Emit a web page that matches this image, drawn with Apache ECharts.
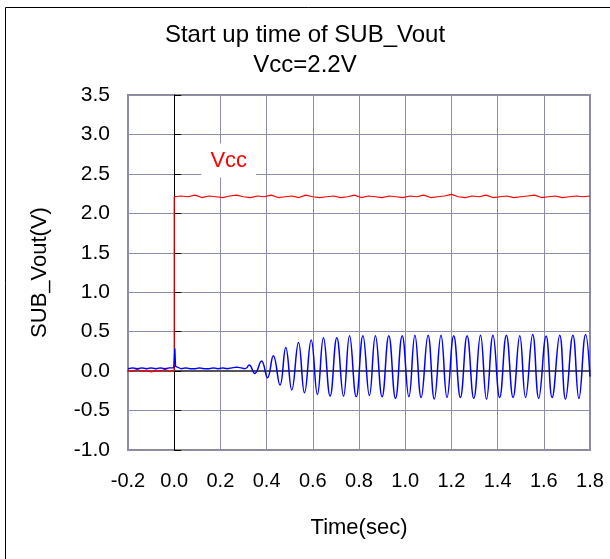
<!DOCTYPE html>
<html>
<head>
<meta charset="utf-8">
<script src="https://cdn.jsdelivr.net/npm/echarts@6/dist/echarts.min.js"></script>
<style>
  html, body { margin: 0; padding: 0; background: #fff; }
  #chart { width: 610px; height: 559px; }
</style>
</head>
<body>
<div id="chart"></div>
<script>
var chart = echarts.init(document.getElementById('chart'));

var xTicks = [-0.2, 0.0, 0.2, 0.4, 0.6, 0.8, 1.0, 1.2, 1.4, 1.6, 1.8];
var yTicks = [-1.0, -0.5, 0.0, 0.5, 1.0, 1.5, 2.0, 2.5, 3.0, 3.5];

// Vcc trace (time, volt)
var vccPoints = [
    [-0.2, 0.01], [-0.18, 0.00], [-0.16, 0.02], [-0.14, 0.00], [-0.12, 0.01],
    [-0.10, -0.01], [-0.08, 0.01], [-0.06, 0.00], [-0.04, 0.02], [-0.02, 0.00],
    [0.0, 0.01], [0.0, 2.21],
    [0.005, 2.20], [0.03, 2.22], [0.06, 2.21], [0.09, 2.23], [0.12, 2.20],
    [0.15, 2.22], [0.18, 2.21], [0.21, 2.20], [0.24, 2.22], [0.27, 2.23],
    [0.30, 2.21], [0.33, 2.20], [0.36, 2.22], [0.39, 2.21], [0.42, 2.23],
    [0.45, 2.20], [0.48, 2.21], [0.51, 2.22], [0.54, 2.20], [0.57, 2.23],
    [0.60, 2.21], [0.63, 2.20], [0.66, 2.21], [0.69, 2.22], [0.72, 2.20],
    [0.75, 2.21], [0.78, 2.23], [0.81, 2.20], [0.84, 2.22], [0.87, 2.21],
    [0.90, 2.20], [0.93, 2.22], [0.96, 2.21], [0.99, 2.20], [1.02, 2.22],
    [1.05, 2.21], [1.08, 2.23], [1.11, 2.20], [1.14, 2.21], [1.17, 2.22],
    [1.20, 2.24], [1.23, 2.21], [1.26, 2.20], [1.29, 2.22], [1.32, 2.21],
    [1.35, 2.23], [1.38, 2.20], [1.41, 2.21], [1.44, 2.22], [1.47, 2.20],
    [1.50, 2.21], [1.53, 2.22], [1.56, 2.23], [1.59, 2.20], [1.62, 2.21],
    [1.65, 2.22], [1.68, 2.20], [1.71, 2.21], [1.74, 2.22], [1.77, 2.21],
    [1.80, 2.22]
];

// SUB_Vout before oscillation (noise + spike)
var voutQuiet = [
    [-0.2, 0.03], [-0.18, 0.04], [-0.16, 0.03], [-0.14, 0.04], [-0.12, 0.03],
    [-0.10, 0.04], [-0.08, 0.03], [-0.06, 0.04], [-0.04, 0.03], [-0.02, 0.04],
    [-0.002, 0.04], [0.003, 0.29], [0.006, 0.06], [0.012, 0.04], [0.03, 0.03],
    [0.05, 0.04], [0.07, 0.03], [0.09, 0.03], [0.11, 0.04], [0.13, 0.03],
    [0.15, 0.03], [0.17, 0.04], [0.19, 0.03], [0.21, 0.04], [0.23, 0.03],
    [0.25, 0.04], [0.27, 0.05], [0.29, 0.04], [0.305, 0.03], [0.315, 0.04]
];

// SUB_Vout oscillation: peaks and troughs
var voutOsc = [
    [0.315, 0.04],
    [0.325, 0.076], [0.349, -0.03], [0.378, 0.127], [0.404, -0.085],
    [0.429, 0.194], [0.458, -0.177], [0.483, 0.30], [0.509, -0.24],
    [0.538, 0.363], [0.564, -0.275], [0.593, 0.393], [0.620, -0.296],
    [0.646, 0.422], [0.675, -0.317], [0.704, 0.422], [0.733, -0.317],
    [0.759, 0.448], [0.788, -0.325], [0.817, 0.448], [0.845, -0.31],
    [0.871, 0.448], [0.900, -0.325], [0.929, 0.448], [0.958, -0.346],
    [0.987, 0.448], [1.016, -0.325], [1.042, 0.456], [1.069, -0.334],
    [1.099, 0.456], [1.126, -0.355], [1.155, 0.456], [1.181, -0.334],
    [1.210, 0.448], [1.239, -0.334], [1.268, 0.448], [1.297, -0.346],
    [1.326, 0.456], [1.352, -0.355], [1.380, 0.456], [1.409, -0.334],
    [1.438, 0.456], [1.467, -0.334], [1.496, 0.448], [1.521, -0.334],
    [1.552, 0.465], [1.578, -0.346], [1.610, 0.444], [1.636, -0.334],
    [1.669, 0.456], [1.694, -0.355], [1.726, 0.456], [1.752, -0.346],
    [1.781, 0.465], [1.80, -0.07]
];

var vccLabelPos = [0.236, 2.67];

var font = 'Liberation Sans, Arial, sans-serif';

chart.setOption({
    animation: false,
    backgroundColor: '#fff',
    graphic: [{
        type: 'rect',
        shape: { x: 5.5, y: 7.5, width: 700, height: 700 },
        style: { fill: 'none', stroke: '#000', lineWidth: 1 },
        silent: true
    }],
    title: {
        text: 'Start up time of SUB_Vout\nVcc=2.2V',
        left: 'center',
        top: 15,
        textStyle: {
            fontFamily: font,
            fontSize: 24,
            fontWeight: 'normal',
            color: '#000',
            lineHeight: 30
        }
    },
    grid: {
        left: 128, top: 95, right: 20, bottom: 109,
        show: true,
        borderColor: '#8c8c8c',
        borderWidth: 2
    },
    xAxis: [{
        type: 'value',
        min: -0.2, max: 1.8, interval: 0.2,
        name: 'Time(sec)',
        nameLocation: 'middle',
        nameGap: 67,
        nameTextStyle: { fontFamily: font, fontSize: 22, color: '#000' },
        axisLine: { show: false, onZero: false },
        axisTick: { show: false },
        axisLabel: {
            fontFamily: font, fontSize: 20, color: '#000', margin: 21,
            formatter: function (v) { return v.toFixed(1); }
        },
        splitLine: { show: true, lineStyle: { color: '#8c8cb0', width: 1 } }
    }, {
        type: 'value',
        min: -0.2, max: 1.8,
        position: 'bottom',
        axisLine: { show: true, onZero: true, lineStyle: { color: '#555', width: 2 } },
        axisTick: { show: false },
        axisLabel: { show: false },
        splitLine: { show: false }
    }],
    yAxis: [{
        type: 'value',
        min: -1.0, max: 3.5, interval: 0.5,
        position: 'left',
        name: 'SUB_Vout(V)',
        nameLocation: 'middle',
        nameGap: 77,
        nameTextStyle: { fontFamily: font, fontSize: 22, color: '#000' },
        axisLine: { show: false, onZero: false },
        axisTick: { show: false },
        axisLabel: {
            fontFamily: font, fontSize: 21, color: '#000', margin: 18,
            formatter: function (v) { return v.toFixed(1); }
        },
        splitLine: { show: true, lineStyle: { color: '#8c8cb0', width: 1 } }
    }, {
        type: 'value',
        min: -1.0, max: 3.5, interval: 0.5,
        position: 'left',
        axisLine: { show: true, onZero: true, lineStyle: { color: '#000', width: 1 } },
        axisTick: { show: true, inside: true, length: 7, lineStyle: { color: '#000' } },
        axisLabel: { show: false },
        splitLine: { show: false }
    }],
    series: [{
        name: 'Vcc',
        type: 'line',
        data: vccPoints,
        showSymbol: false,
        lineStyle: { color: '#ff0000', width: 1.2 },
        z: 3,
        markPoint: {
            symbol: 'rect',
            symbolSize: 1,
            itemStyle: { color: 'rgba(0,0,0,0)' },
            data: [{
                coord: vccLabelPos,
                label: {
                    show: true,
                    position: 'inside',
                    formatter: 'Vcc',
                    fontFamily: font,
                    fontSize: 22,
                    color: '#ff0000',
                    backgroundColor: '#fff',
                    padding: [6, 9]
                }
            }]
        }
    }, {
        name: 'SUB_Vout',
        type: 'line',
        data: voutQuiet,
        showSymbol: false,
        lineStyle: { color: '#0000ff', width: 1.3 },
        z: 4
    }, {
        name: 'SUB_Vout osc',
        type: 'line',
        data: voutOsc,
        smooth: 0.45,
        showSymbol: false,
        lineStyle: { color: '#0000ff', width: 1.5 },
        z: 4
    }]
});
</script>
</body>
</html>
